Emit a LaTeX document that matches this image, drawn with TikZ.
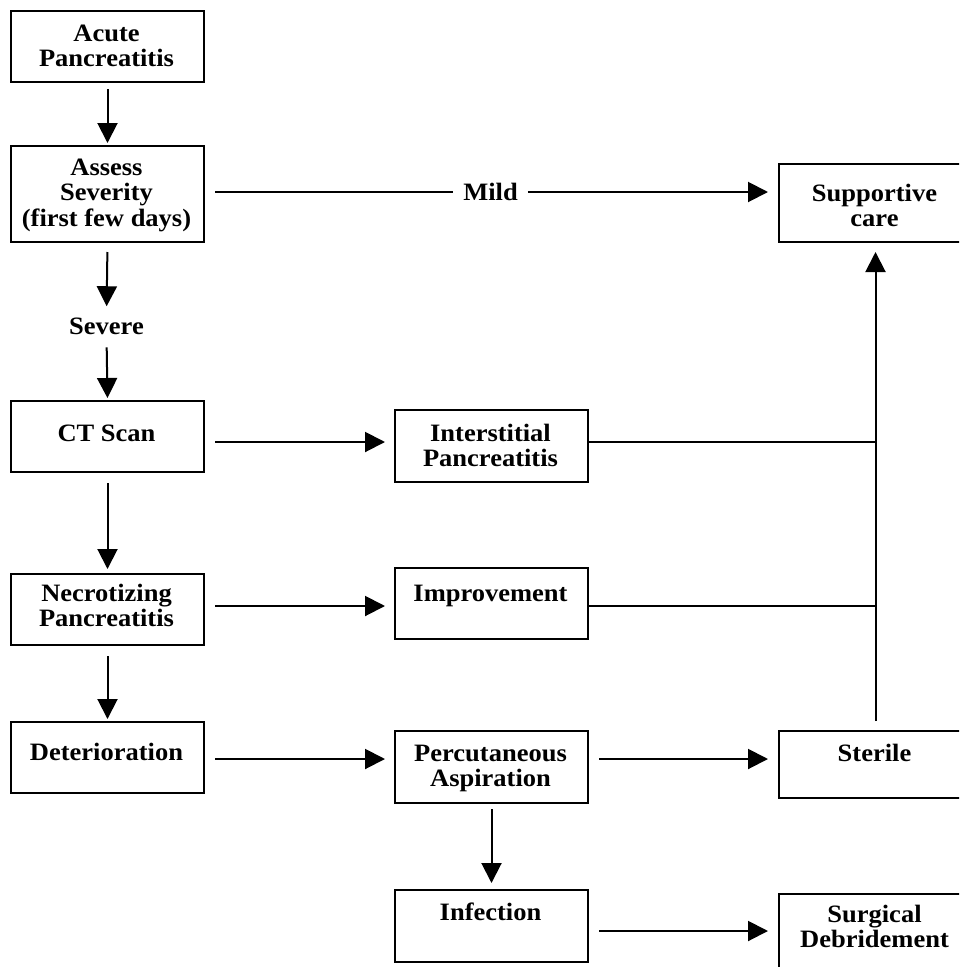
\documentclass[tikz,border=0pt]{standalone}
\usepackage{fontspec}
\setmainfont{Liberation Serif}[FakeStretch=1.06]
\usetikzlibrary{arrows.meta}
\begin{document}
\begin{tikzpicture}[x=1pt,y=-1pt,
  box/.style={draw, line width=2pt, minimum width=193pt, inner sep=0pt, anchor=north west},
  txt/.style={font=\bfseries\fontsize{25}{25.5}\selectfont, align=center, inner sep=0pt, anchor=base},
  arr/.style={line width=2pt, -{Triangle[length=20pt,width=20pt]}},
  ln/.style={line width=2pt}]
\useasboundingbox (0,0) rectangle (959,967);
\clip (0,0) rectangle (959,967);
% row levels
\coordinate (r1) at (0,192);
\coordinate (r2) at (0,442);
\coordinate (r3) at (0,606);
\coordinate (r4) at (0,759);
\coordinate (r5) at (0,931);
% boxes
\node[box, minimum height=71pt] (acute) at (10,10) {};
\node[box, minimum height=96pt] (assess) at (10,145) {};
\node[box, minimum height=71pt] (ct) at (10,400) {};
\node[box, minimum height=71pt] (necro) at (10,573) {};
\node[box, minimum height=71pt] (det) at (10,721) {};
\node[box, minimum height=72pt] (inter) at (394,409) {};
\node[box, minimum height=71pt] (impr) at (394,567) {};
\node[box, minimum height=72pt] (perc) at (394,730) {};
\node[box, minimum height=72pt] (infe) at (394,889) {};
\node[box, minimum height=78pt] (supp) at (778,163) {};
\node[box, minimum height=67pt] (ster) at (778,730) {};
\node[box, minimum height=82pt] (surg) at (778,893) {};
% texts (anchor = baseline of the last line)
\node[txt] (tacute) at (106.5,66.5) {Acute\\Pancreatitis};
\node[txt] (tassess) at (106.5,226) {Assess\\Severity\\(first few days)};
\node[txt] (tct) at (106.5,441) {CT Scan};
\node[txt] (tnecro) at (106.5,626.5) {Necrotizing\\Pancreatitis};
\node[txt] (tdet) at (106.5,760) {Deterioration};
\node[txt] (tinter) at (490.5,466.5) {Interstitial\\Pancreatitis};
\node[txt] (timpr) at (490.5,601) {Improvement};
\node[txt] (tperc) at (490.5,786.5) {Percutaneous\\Aspiration};
\node[txt] (tinfe) at (490.5,920) {Infection};
\node[txt] (tsupp) at (874.5,226.5) {Supportive\\care};
\node[txt] (tster) at (874.5,761) {Sterile};
\node[txt] (tsurg) at (874.5,947.5) {Surgical\\Debridement};
\node[txt] (severe) at (106.5,334) {Severe};
\node[txt, inner xsep=10pt] (mild) at (490.5,200) {Mild};
% vertical connectors
\draw[arr, shorten <=6pt, shorten >=2pt] (acute.south) -- (assess.north);
\draw[arr, shorten <=9pt, shorten >=11pt] (assess.south) -- (severe.north);
\draw[arr, shorten <=13pt, shorten >=2pt] (severe.south) -- (ct.north);
\draw[arr, shorten <=10pt, shorten >=4pt] (ct.south) -- (necro.north);
\draw[arr, shorten <=10pt, shorten >=2pt] (necro.south) -- (det.north);
\draw[arr, shorten <=5pt, shorten >=6pt] (perc.south) -- (infe.north);
% horizontal connectors
\draw[ln, shorten <=10pt] (assess.east |- r1) -- (mild.west |- r1);
\draw[arr, shorten >=10pt] (mild.east |- r1) -- (supp.west |- r1);
\draw[arr, shorten <=10pt, shorten >=9pt] (ct.east |- r2) -- (inter.west |- r2);
\draw[ln] (inter.east |- r2) -- (supp.south |- r2);
\draw[arr, shorten <=10pt, shorten >=9pt] (necro.east |- r3) -- (impr.west |- r3);
\draw[ln] (impr.east |- r3) -- (supp.south |- r3);
\draw[arr, shorten <=10pt, shorten >=9pt] (det.east |- r4) -- (perc.west |- r4);
\draw[arr, shorten <=10pt, shorten >=10pt] (perc.east |- r4) -- (ster.west |- r4);
\draw[arr, shorten <=10pt, shorten >=10pt] (infe.east |- r5) -- (surg.west |- r5);
% collector to supportive care
\draw[arr, shorten <=9pt, shorten >=9pt] (ster.north) -- (supp.south);
\end{tikzpicture}
\end{document}
